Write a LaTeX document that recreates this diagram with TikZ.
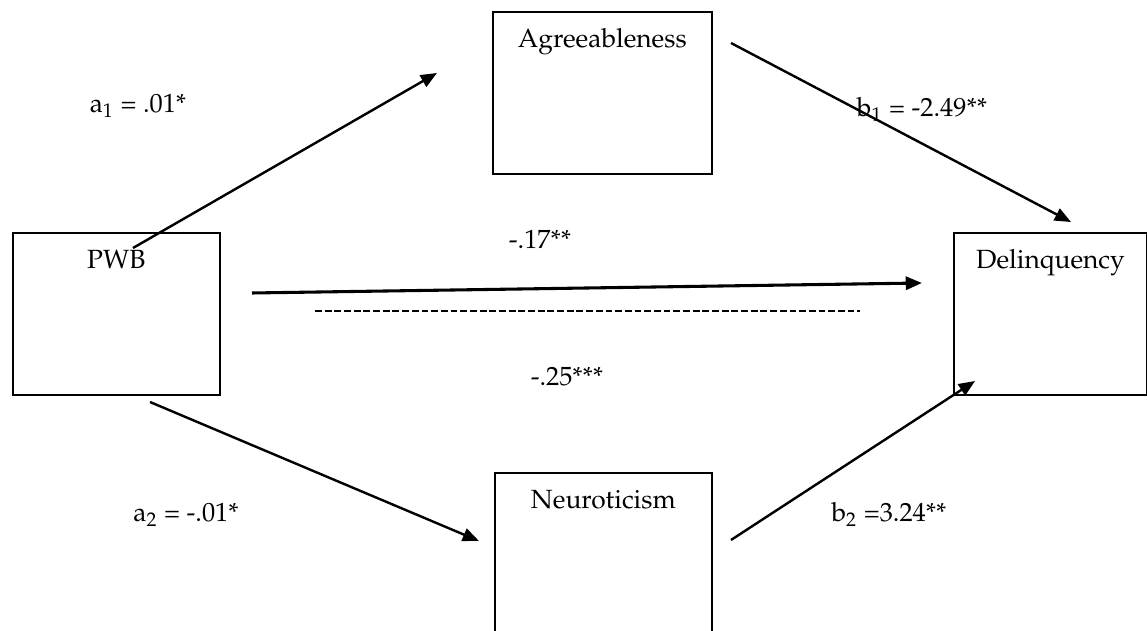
\documentclass[tikz,border=0pt]{standalone}
\usepackage[T1]{fontenc}
\usepackage{mathpazo}
\usepackage{tikz}
\usetikzlibrary{arrows.meta,positioning}
\tikzset{
every picture/.style={line join=miter},
>={Triangle[length=2.6mm,width=2.1mm]},
var box/.style={
  draw,
  line width=0.9pt,
  inner sep=0pt,
  anchor=north west,
  text height=5.76mm,
  text depth=20.16mm,
  font=\fontsize{12}{14}\selectfont
},
path flow/.style={draw, ->, line width=1.1pt},
direct flow/.style={path flow, line width=1.4pt},
coef label/.style={anchor=base, font=\fontsize{12}{14}\selectfont},
dash rule/.style={draw, line width=0.95pt, dash pattern=on 1.1mm off 0.45mm}
}

\begin{document}
\begin{tikzpicture}[x=0.016cm,y=-0.016cm]
\useasboundingbox (0,0) rectangle (1147,631);
% variables
\node[var box,minimum width=3.31cm] (pwb) at (12,232) {PWB};
\node[var box,minimum width=3.50cm] (agree) at (492,11) {Agreeableness};
\node[var box,minimum width=3.09cm] (delinq) at (953,232) {Delinquency};
\node[var box,minimum width=3.47cm] (neuro) at (494,472) {Neuroticism};
% free ends of the paths
\coordinate (a1 start) at (133,248);
\coordinate (a1 end) at (437,73);
\coordinate (b1 start) at (731,43);
\coordinate (b1 end) at (1071,222);
\coordinate (c start) at (252,293);
\coordinate (c end) at (922,283);
\coordinate (a2 start) at (150,402);
\coordinate (a2 end) at (479,541);
\coordinate (b2 start) at (731,540);
\coordinate (b2 end) at (975,381);
\coordinate (rule start) at (315,311);
\coordinate (rule end) at (860,311);
% coefficients
\node[coef label] (a1) at (138,113) {a\textsubscript{1} = .01*};
\node[coef label] (b1) at (922,117) {b\textsubscript{1} = -2.49**};
\node[coef label] (c) at (540,249) {-.17**};
\node[coef label] (cprime) at (567,386) {-.25***};
\node[coef label] (a2) at (186,522) {a\textsubscript{2} = -.01*};
\node[coef label] (b2) at (889,522) {b\textsubscript{2} =3.24**};
% paths
\draw[path flow] (a1 start) -- (a1 end);
\draw[path flow] (b1 start) -- (b1 end);
\draw[direct flow] (c start) -- (c end);
\draw[path flow] (a2 start) -- (a2 end);
\draw[path flow] (b2 start) -- (b2 end);
\draw[dash rule] (rule start) -- (rule end);
\end{tikzpicture}
\end{document}
